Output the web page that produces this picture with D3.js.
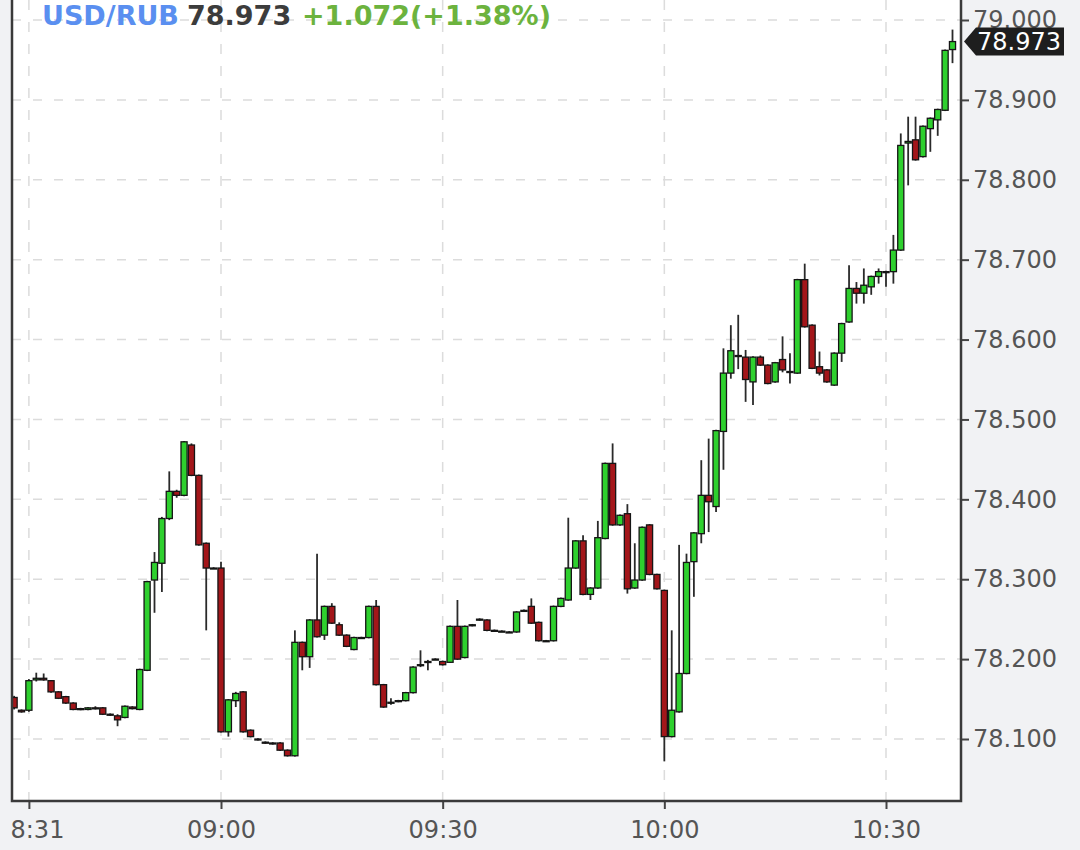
<!DOCTYPE html>
<html>
<head>
<meta charset="utf-8">
<script src="https://cdn.jsdelivr.net/npm/d3@7"></script>
<style>
body { margin: 0; background: #f1f2f4; }
svg { display: block; font-family: "DejaVu Sans", sans-serif; }
</style>
</head>
<body>
<div class="graphic"></div>
<script>
var width = 1080;
var height = 850;
var plotLeft = 12, plotRight = 961, plotTop = 0, plotBottom = 801;

// header
var pairName = "USD/RUB";
var lastPrice = "78.973";
var changeText = "+1.072(+1.38%)";

// one candle per minute, starting here
var startTime = "08:32";
var opens = [78.152,78.136,78.136,78.174,78.176,78.173,78.159,78.153,78.145,78.138,
	78.137,78.139,78.139,78.131,78.129,78.127,78.140,78.137,78.186,78.299,
	78.320,78.376,78.410,78.405,78.468,78.430,78.345,78.314,78.314,78.109,
	78.148,78.159,78.111,78.100,78.096,78.095,78.095,78.086,78.079,78.221,
	78.203,78.249,78.230,78.266,78.243,78.230,78.212,78.227,78.227,78.266,
	78.168,78.145,78.147,78.148,78.158,78.192,78.196,78.199,78.197,78.196,
	78.241,78.202,78.242,78.249,78.249,78.236,78.235,78.234,78.234,78.260,
	78.266,78.246,78.223,78.223,78.266,78.274,78.314,78.348,78.281,78.289,
	78.351,78.445,78.368,78.382,78.289,78.299,78.368,78.306,78.286,78.103,
	78.134,78.182,78.322,78.357,78.405,78.391,78.485,78.558,78.580,78.578,
	78.547,78.578,78.568,78.547,78.575,78.560,78.558,78.675,78.618,78.566,
	78.562,78.543,78.583,78.622,78.664,78.658,78.666,78.679,78.685,78.685,
	78.712,78.846,78.850,78.829,78.864,78.875,78.887,78.963];
var highs = [78.154,78.137,78.175,78.183,78.182,78.174,78.160,78.154,78.146,78.139,
	78.140,78.141,78.140,78.132,78.131,78.142,78.141,78.188,78.298,78.334,
	78.378,78.435,78.412,78.473,78.470,78.431,78.346,78.315,78.322,78.150,
	78.159,78.160,78.112,78.101,78.097,78.096,78.096,78.087,78.236,78.222,
	78.250,78.332,78.267,78.270,78.246,78.231,78.228,78.228,78.267,78.274,
	78.169,78.151,78.149,78.159,78.191,78.211,78.199,78.201,78.198,78.242,
	78.274,78.242,78.244,78.251,78.250,78.237,78.236,78.235,78.260,78.262,
	78.276,78.247,78.224,78.267,78.277,78.377,78.349,78.355,78.290,78.373,
	78.446,78.470,78.381,78.394,78.345,78.366,78.369,78.307,78.287,78.236,
	78.343,78.332,78.359,78.449,78.476,78.487,78.589,78.618,78.631,78.587,
	78.579,78.580,78.569,78.572,78.604,78.583,78.676,78.695,78.619,78.585,
	78.563,78.584,78.621,78.693,78.672,78.689,78.680,78.689,78.686,78.731,
	78.858,78.879,78.879,78.868,78.878,78.889,78.963,78.988];
var lows = [78.137,78.133,78.134,78.172,78.173,78.158,78.150,78.144,78.136,78.136,
	78.136,78.137,78.130,78.129,78.116,78.126,78.137,78.136,78.185,78.258,
	78.284,78.374,78.402,78.404,78.429,78.342,78.236,78.313,78.108,78.103,
	78.140,78.108,78.102,78.098,78.094,78.093,78.085,78.078,78.078,78.186,
	78.189,78.227,78.224,78.244,78.229,78.215,78.211,78.226,78.226,78.167,
	78.139,78.143,78.146,78.147,78.157,78.190,78.186,78.199,78.192,78.195,
	78.199,78.201,78.241,78.248,78.235,78.235,78.234,78.233,78.233,78.259,
	78.244,78.222,78.222,78.222,78.265,78.273,78.313,78.280,78.274,78.288,
	78.350,78.367,78.367,78.282,78.288,78.298,78.305,78.287,78.072,78.102,
	78.133,78.181,78.278,78.345,78.359,78.384,78.437,78.551,78.563,78.522,
	78.518,78.567,78.544,78.546,78.559,78.545,78.557,78.615,78.563,78.555,
	78.546,78.542,78.572,78.621,78.645,78.645,78.656,78.670,78.666,78.670,
	78.711,78.793,78.824,78.828,78.835,78.855,78.886,78.946];
var closes = [78.139,78.134,78.173,78.176,78.174,78.159,78.151,78.145,78.137,78.137,
	78.139,78.138,78.131,78.130,78.124,78.141,78.138,78.187,78.297,78.321,
	78.376,78.410,78.405,78.472,78.430,78.343,78.314,78.314,78.109,78.149,
	78.157,78.109,78.103,78.099,78.095,78.094,78.086,78.079,78.221,78.203,
	78.249,78.228,78.266,78.245,78.230,78.216,78.227,78.227,78.266,78.168,
	78.140,78.146,78.148,78.158,78.190,78.193,78.197,78.200,78.193,78.241,
	78.200,78.241,78.243,78.250,78.236,78.236,78.235,78.234,78.259,78.261,
	78.245,78.223,78.223,78.266,78.276,78.314,78.348,78.281,78.289,78.352,
	78.445,78.368,78.380,78.288,78.299,78.365,78.306,78.288,78.103,78.136,
	78.182,78.321,78.358,78.405,78.397,78.486,78.558,78.586,78.579,78.550,
	78.578,78.568,78.545,78.571,78.562,78.559,78.675,78.616,78.564,78.558,
	78.547,78.583,78.620,78.664,78.658,78.668,78.679,78.685,78.685,78.712,
	78.843,78.848,78.825,78.867,78.877,78.888,78.962,78.973];

var priceTicks = [78.1, 78.2, 78.3, 78.4, 78.5, 78.6, 78.7, 78.8, 78.9, 79.0];
var timeTicks = ["08:34", "09:00", "09:30", "10:00", "10:30"];
var timeLabels = ["8:31", "09:00", "09:30", "10:00", "10:30"];
var lastValue = 78.973;

var parseTime = d3.timeParse("%H:%M");

var candles = opens.map(function(o, i){
	return {
		t: d3.timeMinute.offset(parseTime(startTime), i),
		o: o, h: highs[i], l: lows[i], c: closes[i]
	};
});

var svg = d3.select("div.graphic").append("svg")
	.attr("width", width)
	.attr("height", height);

var x = d3.scaleTime()
	.domain([parseTime("09:00"), parseTime("10:30")])
	.range([221, 886]);
var y = d3.scaleLinear()
	.domain([78.1, 79.0])
	.range([739, 20]);

svg.append("rect")
	.attr("width", width)
	.attr("height", height)
	.attr("fill", "#f1f2f4");

svg.append("rect")
	.attr("x", plotLeft)
	.attr("y", plotTop)
	.attr("width", plotRight - plotLeft)
	.attr("height", plotBottom - plotTop)
	.attr("fill", "#ffffff");

svg.append("clipPath").attr("id", "plotclip")
	.append("rect")
	.attr("x", plotLeft + 1)
	.attr("y", plotTop)
	.attr("width", plotRight - plotLeft - 2)
	.attr("height", plotBottom - plotTop);

// dashed grid
var grid = svg.append("g").attr("clip-path", "url(#plotclip)");
grid.selectAll("line.hgrid")
	.data(priceTicks)
	.enter()
	.append("line")
	.attr("class", "hgrid")
	.attr("x1", plotLeft)
	.attr("x2", plotRight)
	.attr("y1", function(d){ return y(d); })
	.attr("y2", function(d){ return y(d); })
	.attr("stroke", "#dcdcdc")
	.attr("stroke-width", 1.5)
	.attr("stroke-dasharray", "9,12");
grid.selectAll("line.vgrid")
	.data(timeTicks)
	.enter()
	.append("line")
	.attr("class", "vgrid")
	.attr("x1", function(d){ return x(parseTime(d)); })
	.attr("x2", function(d){ return x(parseTime(d)); })
	.attr("y1", plotTop)
	.attr("y2", plotBottom)
	.attr("stroke", "#dcdcdc")
	.attr("stroke-width", 1.5)
	.attr("stroke-dasharray", "10,12");

// candles
var bodyW = 6.1;
var plot = svg.append("g").attr("clip-path", "url(#plotclip)");
plot.selectAll("line.wick")
	.data(candles)
	.enter()
	.append("line")
	.attr("class", "wick")
	.attr("x1", function(d){ return x(d.t); })
	.attr("x2", function(d){ return x(d.t); })
	.attr("y1", function(d){ return y(d.h); })
	.attr("y2", function(d){ return y(d.l); })
	.attr("stroke", "#2a2a2a")
	.attr("stroke-width", 1.8);
plot.selectAll("rect.body")
	.data(candles)
	.enter()
	.append("rect")
	.attr("class", "body")
	.attr("x", function(d){ return x(d.t) - bodyW / 2; })
	.attr("width", bodyW)
	.attr("y", function(d){ return y(Math.max(d.o, d.c)); })
	.attr("height", function(d){ return Math.max(1, Math.abs(y(d.o) - y(d.c))); })
	.attr("fill", function(d){ return d.c >= d.o ? "#2ed02e" : "#a3161a"; })
	.attr("stroke", "#151515")
	.attr("stroke-width", 1.3);

// header
var header = svg.append("g")
	.attr("font-size", "27px")
	.attr("font-weight", "bold");
header.append("text").attr("x", 42).attr("y", 25).attr("fill", "#5a8ff0").text(pairName);
header.append("text").attr("x", 187).attr("y", 25).attr("fill", "#3c3c3c").text(lastPrice);
header.append("text").attr("x", 302).attr("y", 25).attr("fill", "#6cb33e").text(changeText);

// right price axis
var yAxis = svg.append("g")
	.attr("transform", "translate(" + plotRight + ",0)")
	.call(d3.axisRight(y).tickValues(priceTicks).tickFormat(d3.format(".3f")).tickSize(8).tickPadding(4));
yAxis.select(".domain").remove();
yAxis.selectAll("line").attr("stroke", "#444").attr("stroke-width", 2);
yAxis.selectAll("text")
	.attr("fill", "#555")
	.attr("font-size", "24px")
	.attr("font-family", "DejaVu Sans, sans-serif");

// bottom time axis
var xAxis = svg.append("g")
	.attr("transform", "translate(0," + plotBottom + ")")
	.call(d3.axisBottom(x)
		.tickValues(timeTicks.map(parseTime))
		.tickFormat(function(d, i){ return timeLabels[i]; })
		.tickSize(8).tickPadding(12));
xAxis.select(".domain").remove();
xAxis.selectAll("line").attr("stroke", "#444").attr("stroke-width", 2);
xAxis.selectAll("text")
	.attr("fill", "#555")
	.attr("font-size", "24px")
	.attr("font-family", "DejaVu Sans, sans-serif");
xAxis.select(".tick text")
	.attr("text-anchor", "start")
	.attr("x", plotLeft - 2 - x(parseTime(timeTicks[0])));

// frame: left, bottom, right
svg.append("path")
	.attr("d", "M" + plotLeft + "," + plotTop + "V" + plotBottom + "H" + plotRight + "V" + plotTop)
	.attr("fill", "none")
	.attr("stroke", "#3a3a3a")
	.attr("stroke-width", 2.5);

// last price marker
var ly = y(lastValue);
svg.append("path")
	.attr("d", "M" + (plotRight + 3) + "," + ly + "L" + (plotRight + 15) + "," + (ly - 14) +
		"H1064V" + (ly + 14) + "H" + (plotRight + 15) + "Z")
	.attr("fill", "#1e1e1e");
svg.append("text")
	.attr("x", plotRight + 16)
	.attr("y", ly)
	.attr("dy", "0.35em")
	.attr("fill", "#ffffff")
	.attr("font-size", "24px")
	.text(lastPrice);
</script>
</body>
</html>
